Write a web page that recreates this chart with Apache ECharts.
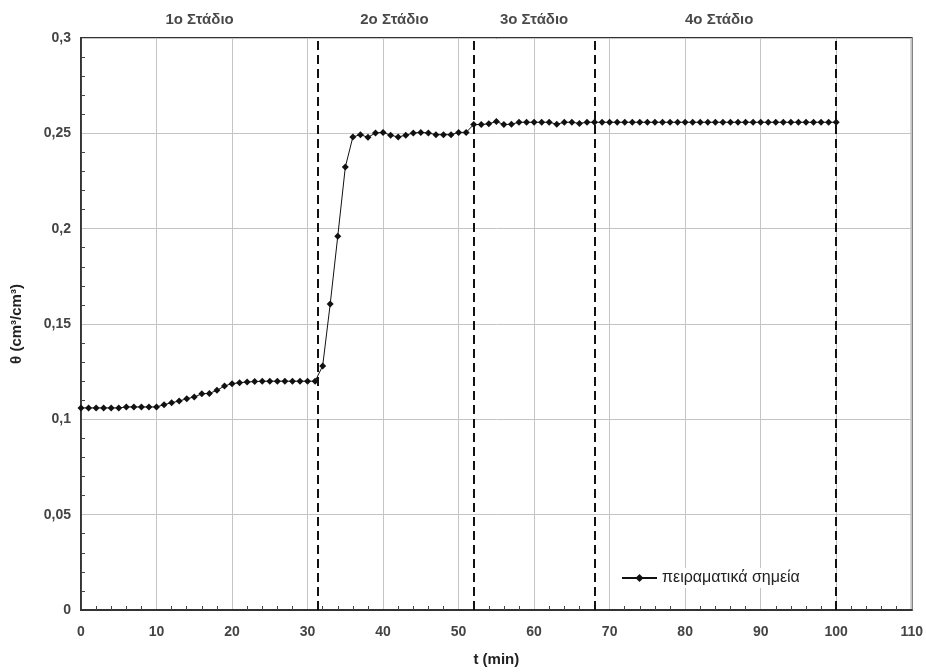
<!DOCTYPE html>
<html><head><meta charset="utf-8">
<script src="https://cdn.jsdelivr.net/npm/echarts@6/dist/echarts.min.js"></script>
<style>html,body{margin:0;padding:0;background:#fff}#c{width:926px;height:672px}</style>
</head><body><div id="c"></div>
<script>
const timeMin = [0,1,2,3,4,5,6,7,8,9,10,11,12,13,14,15,16,17,18,19,20,21,22,23,24,25,26,27,28,29,30,31,32,33,34,35,36,37,38,39,40,41,42,43,44,45,46,47,48,49,50,51,52,53,54,55,56,57,58,59,60,61,62,63,64,65,66,67,68,69,70,71,72,73,74,75,76,77,78,79,80,81,82,83,84,85,86,87,88,89,90,91,92,93,94,95,96,97,98,99,100];
const theta = [
 0.106,0.106,0.106,0.106,0.106,0.106,
 0.1065,0.1065,0.1065,0.1065,0.1065,
 0.1077,0.1087,0.1096,0.1108,0.1117,0.1134,0.1136,0.1152,0.1175,0.1187,0.1192,0.1196,0.1198,
 0.12,0.12,0.12,0.12,0.12,0.12,0.12,0.12,
 0.128,0.1605,0.196,0.2323,0.2481,0.2493,0.2479,0.2502,0.2505,0.249,0.2481,0.249,0.2502,0.2505,0.2502,0.2493,0.2493,0.2493,0.2505,0.2505,
 0.2546,0.2546,0.255,0.2562,0.2546,0.2548,0.2558,0.2558,0.2558,0.2558,0.2558,0.2548,0.2558,0.2558,0.2552,
 0.2558,0.2558,0.2558,0.2558,0.2558,0.2558,0.2558,0.2558,0.2558,0.2558,0.2558,0.2558,0.2558,0.2558,0.2558,0.2558,0.2558,
 0.2558,0.2558,0.2558,0.2558,0.2558,0.2558,0.2558,0.2558,0.2558,0.2558,0.2558,0.2558,0.2558,0.2558,0.2558,0.2558,0.2558
];
const stageBounds = [31.3, 52, 68, 100];
const stageNames = ['1ο Στάδιο','2ο Στάδιο','3ο Στάδιο','4ο Στάδιο'];
const stageLabelX = [15.7, 41.5, 60, 84.5];
const xTicks = {min:0, max:110, interval:10};
const yTicks = {min:0, max:0.3, interval:0.05};
const seriesName = 'πειραματικά σημεία';

const font = 'Liberation Sans, Arial, sans-serif';
const chart = echarts.init(document.getElementById('c'));
chart.setOption({
  animation:false,
  textStyle:{fontFamily:font},
  grid:{left:81,right:13,top:38,bottom:60,show:true,borderColor:'#333',borderWidth:1.8,backgroundColor:'transparent'},
  legend:{
    data:[seriesName], left:619, top:568, backgroundColor:'#fff', padding:[2,6,2,2],
    itemWidth:35, itemHeight:10, itemGap:0,
    textStyle:{fontSize:16,color:'#222',fontFamily:font}
  },
  xAxis:{
    type:'value', min:xTicks.min, max:xTicks.max, interval:xTicks.interval,
    name:'t (min)', nameLocation:'middle', nameGap:42,
    nameTextStyle:{fontSize:15,fontWeight:'bold',color:'#222'},
    axisLine:{lineStyle:{color:'#333',width:1.8}},
    axisTick:{show:false,inside:true},
    minorTick:{show:true,splitNumber:5,length:4,lineStyle:{color:'#444'}},
    axisLabel:{fontSize:14,fontWeight:'bold',color:'#444',margin:15},
    splitLine:{show:true,lineStyle:{color:'#c4c4c4',width:1}}
  },
  yAxis:{
    type:'value', min:yTicks.min, max:yTicks.max, interval:yTicks.interval,
    name:'θ (cm³/cm³)', nameLocation:'middle', nameGap:57, nameRotate:90,
    nameTextStyle:{fontSize:15,fontWeight:'bold',color:'#222'},
    axisLine:{show:true,lineStyle:{color:'#333',width:1.8}},
    axisTick:{show:false,inside:true},
    minorTick:{show:true,splitNumber:5,length:4,lineStyle:{color:'#444'}},
    axisLabel:{fontSize:14,fontWeight:'bold',color:'#444',margin:10,formatter:v=>String(+v.toFixed(2)).replace('.',',')},
    splitLine:{show:true,lineStyle:{color:'#c4c4c4',width:1}}
  },
  series:[
    {
      name:seriesName, type:'line',
      data: timeMin.map((t,i)=>[t,theta[i]]),
      symbol:'diamond', symbolSize:7,
      lineStyle:{color:'#111',width:1},
      itemStyle:{color:'#111'},
      markLine:{
        silent:true, symbol:'none', animation:false,
        label:{show:false},
        lineStyle:{color:'#111',type:[9,5],width:2},
        data: stageBounds.map(b=>({xAxis:b}))
      },
      z:3
    },
    {
      name:'stages', type:'scatter', symbolSize:0, silent:true,
      data: stageLabelX.map((x,i)=>({value:[x,yTicks.max],name:stageNames[i]})),
      label:{show:true,position:'top',distance:11,formatter:p=>p.name,
        fontSize:15,fontWeight:'bold',color:'#1a1a1a',fontFamily:font},
      clip:false
    }
  ]
});
</script></body></html>
